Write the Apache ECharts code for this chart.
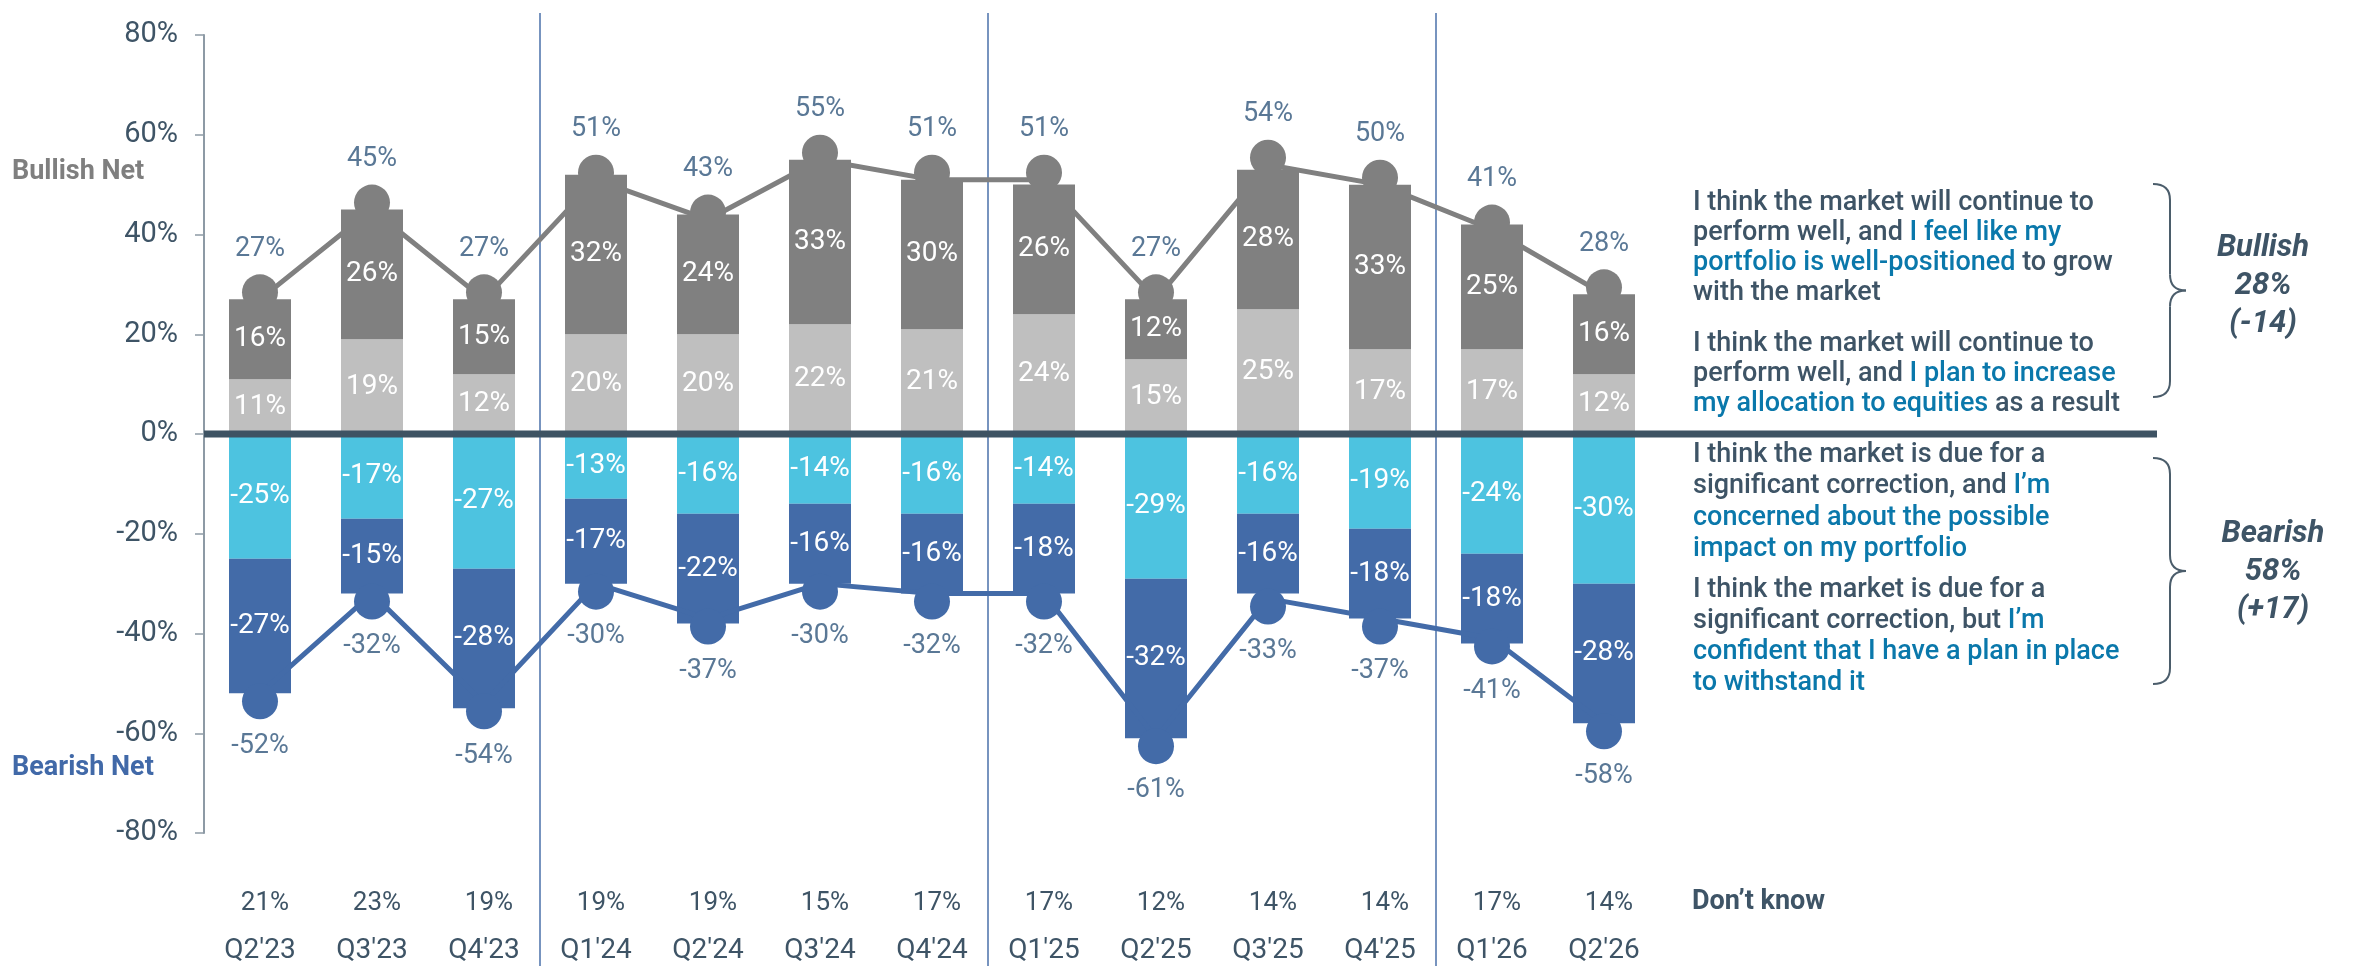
<!DOCTYPE html>
<html>
<head>
<meta charset="utf-8">
<script src="https://cdn.jsdelivr.net/npm/echarts@6/dist/echarts.min.js"></script>
<style>
  html, body { margin: 0; padding: 0; background: #fff; }
  #chart { width: 2359px; height: 966px; }
</style>
</head>
<body>
<div id="chart"></div>
<script>
// survey waves
var quarters = ["Q2'23", "Q3'23", "Q4'23", "Q1'24", "Q2'24", "Q3'24", "Q4'24",
                "Q1'25", "Q2'25", "Q3'25", "Q4'25", "Q1'26", "Q2'26"];

// bullish answers
var increaseAlloc  = [11, 19, 12, 20, 20, 22, 21, 24, 15, 25, 17, 17, 12];
var wellPositioned = [16, 26, 15, 32, 24, 33, 30, 26, 12, 28, 33, 25, 16];
var bullishNet     = [27, 45, 27, 51, 43, 55, 51, 51, 27, 54, 50, 41, 28];

// bearish answers
var concerned  = [-25, -17, -27, -13, -16, -14, -16, -14, -29, -16, -19, -24, -30];
var confident  = [-27, -15, -28, -17, -22, -16, -16, -18, -32, -16, -18, -18, -28];
var bearishNet = [-52, -32, -54, -30, -37, -30, -32, -32, -61, -33, -37, -41, -58];

var dontKnow = [21, 23, 19, 19, 19, 15, 17, 17, 12, 14, 14, 17, 14];

// year breaks drawn between these pairs
var yearBreaks = [["Q4'23", "Q1'24"], ["Q4'24", "Q1'25"], ["Q4'25", "Q1'26"]];

var SLATE = '#3e5466';
var HILITE = '#0a78ab';
var FONT = 'Roboto, "Noto Sans", sans-serif';

var chart = echarts.init(document.getElementById('chart'));

var pct = function (p) { return p.value + '%'; };

function barSeries(name, data, color) {
  return {
    name: name,
    type: 'bar',
    stack: 'total',
    barWidth: 62,
    data: data,
    itemStyle: { color: color },
    label: {
      show: true,
      position: 'inside',
      color: '#fff',
      fontSize: 28,
      fontFamily: FONT,
      formatter: pct
    },
    z: 3
  };
}

function netSeries(name, data, color, up) {
  return {
    name: name,
    type: 'line',
    data: data,
    symbol: 'circle',
    symbolSize: 36,
    symbolOffset: [0, up ? -7 : 8],
    lineStyle: { color: color, width: 5 },
    itemStyle: { color: color },
    label: {
      show: true,
      position: up ? 'top' : 'bottom',
      distance: up ? 12 : 13,
      color: '#5a7896',
      fontSize: 27,
      fontFamily: FONT,
      formatter: pct
    },
    z: 5
  };
}

var gridLeft = 204;

var option = {
  backgroundColor: '#fff',
  animation: false,
  grid: { left: gridLeft, top: 35, width: 1456, bottom: 133, containLabel: false },
  xAxis: {
    type: 'category',
    data: quarters,
    axisLine: { show: false, onZero: false },
    axisTick: { show: false },
    axisLabel: {
      margin: 46,
      formatter: function (v, i) {
        return '{dk|' + dontKnow[i] + '%}\n{q|' + v + '}';
      },
      rich: {
        dk: { fontSize: 26, color: SLATE, fontFamily: FONT, lineHeight: 48, padding: [0, 0, 0, 10] },
        q: { fontSize: 28, color: SLATE, fontFamily: FONT, lineHeight: 48 }
      }
    }
  },
  yAxis: {
    type: 'value',
    min: -80,
    max: 80,
    interval: 20,
    splitLine: { show: false },
    axisLine: { show: true, lineStyle: { color: '#8d9aa5', width: 2 } },
    axisTick: { show: true, length: 9, lineStyle: { color: '#8d9aa5', width: 1.5 } },
    axisLabel: {
      margin: 26,
      fontSize: 29,
      color: SLATE,
      fontFamily: FONT,
      formatter: '{value}%'
    }
  },
  series: [
    barSeries('Increase allocation', increaseAlloc, '#bfbfbf'),
    barSeries('Well-positioned', wellPositioned, '#808080'),
    barSeries('Concerned', concerned, '#4dc3e0'),
    barSeries('Confident', confident, '#436ba8'),
    netSeries('Bullish Net', bullishNet, '#808080', true),
    netSeries('Bearish Net', bearishNet, '#436ba8', false)
  ]
};

chart.setOption(option);

// decorations placed from the axes
var zeroY = chart.convertToPixel({ yAxisIndex: 0 }, 0);
var gfx = [];

yearBreaks.forEach(function (pair) {
  var x = (chart.convertToPixel({ xAxisIndex: 0 }, pair[0]) +
           chart.convertToPixel({ xAxisIndex: 0 }, pair[1])) / 2;
  gfx.push({
    type: 'line', z: 1, silent: true,
    shape: { x1: x, y1: 13, x2: x, y2: 966 },
    style: { stroke: '#4a70aa', lineWidth: 1.5 }
  });
});

// thick zero line running under the legend text
gfx.push({
  type: 'line', z: 10, silent: true,
  shape: { x1: gridLeft, y1: zeroY, x2: 2157, y2: zeroY },
  style: { stroke: '#3e5363', lineWidth: 7 }
});

gfx.push({
  type: 'text', x: 12, y: 172,
  style: { text: 'Bullish Net', fill: '#7f7f7f', font: 'bold 27px ' + FONT, verticalAlign: 'middle' }
});
gfx.push({
  type: 'text', x: 12, y: 768,
  style: { text: 'Bearish Net', fill: '#4169a8', font: 'bold 27px ' + FONT, verticalAlign: 'middle' }
});

function para(text, centerFirst, lh) {
  return {
    type: 'text', x: 1693, y: centerFirst - lh / 2,
    style: {
      text: text,
      fill: SLATE,
      font: '500 27px ' + FONT,
      lineHeight: lh,
      verticalAlign: 'top',
      rich: {
        b: { fill: HILITE, fontSize: 27, fontWeight: 500, fontFamily: FONT, lineHeight: lh }
      }
    }
  };
}

gfx.push(para('I think the market will continue to\nperform well, and {b|I feel like my}\n{b|portfolio is well-positioned} to grow\nwith the market', 203, 30));
gfx.push(para('I think the market will continue to\nperform well, and {b|I plan to increase}\n{b|my allocation to equities} as a result', 344, 30));
gfx.push(para('I think the market is due for a\nsignificant correction, and {b|I\u2019m}\n{b|concerned about the possible}\n{b|impact on my portfolio}', 455, 31.5));
gfx.push(para('I think the market is due for a\nsignificant correction, but {b|I\u2019m}\n{b|confident that I have a plan in place}\n{b|to withstand it}', 590, 31));

gfx.push({
  type: 'text', x: 1692, y: 902,
  style: { text: 'Don\u2019t know', fill: SLATE, font: 'bold 27px ' + FONT, verticalAlign: 'middle' }
});

// curly brace built from curves and straight pieces
function brace(top, bottom) {
  var x0 = 2153, xs = 2170, xt = 2186, m = (top + bottom) / 2, r = 16;
  var st = { stroke: '#4b5d6b', lineWidth: 2, fill: null };
  function curve(x1, y1, cx, cy, x2, y2) {
    return { type: 'bezierCurve', z: 5, silent: true,
             shape: { x1: x1, y1: y1, cpx1: cx, cpy1: cy, x2: x2, y2: y2 }, style: st };
  }
  function seg(y1, y2) {
    return { type: 'line', z: 5, silent: true,
             shape: { x1: xs, y1: y1, x2: xs, y2: y2 }, style: st };
  }
  return [
    curve(x0, top, xs, top, xs, top + r),
    seg(top + r, m - r),
    curve(xs, m - r, xs, m, xt, m),
    curve(xt, m, xs, m, xs, m + r),
    seg(m + r, bottom - r),
    curve(xs, bottom - r, xs, bottom, x0, bottom)
  ];
}
gfx = gfx.concat(brace(184, 397), brace(458, 684));

function summary(text, cx, cy) {
  return {
    type: 'text', x: cx, y: cy,
    style: {
      text: text, fill: SLATE, font: 'italic bold 31px ' + FONT,
      align: 'center', verticalAlign: 'top', lineHeight: 38
    }
  };
}
gfx.push(summary('Bullish\n28%\n(-14)', 2263, 248 - 19));
gfx.push(summary('Bearish\n58%\n(+17)', 2273, 534 - 19));

chart.setOption({ graphic: { elements: gfx } });

window.onresize = function () { chart.resize(); };
</script>
</body>
</html>
